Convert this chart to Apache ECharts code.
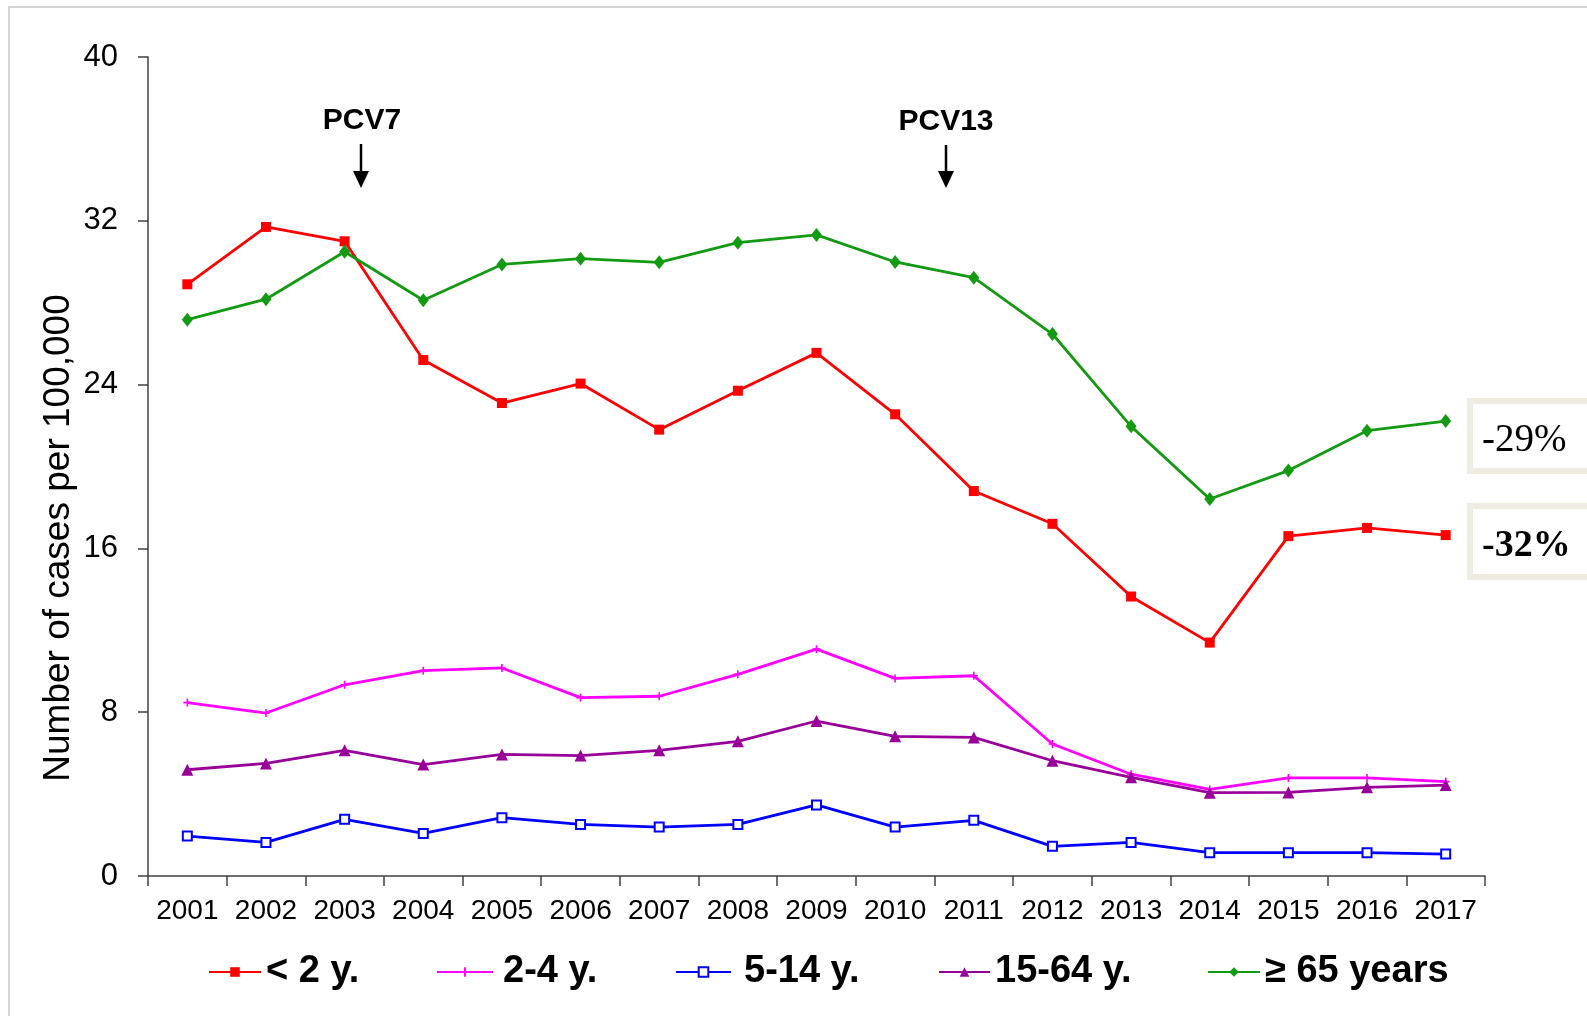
<!DOCTYPE html>
<html lang="en">
<head>
    <meta charset="UTF-8">
    <script src="https://cdn.jsdelivr.net/npm/echarts@6/dist/echarts.min.js"></script>
    <title>IPD incidence by age group</title>
    <style>
        html, body { margin: 0; padding: 0; background: #fff; }
    </style>
</head>
<body>
<div id="main" style="width: 1587px;height:1016px;"></div>
<script type="text/javascript">
    // data
    var years = ['2001', '2002', '2003', '2004', '2005', '2006', '2007', '2008', '2009',
                 '2010', '2011', '2012', '2013', '2014', '2015', '2016', '2017'];
    var under2 = [28.9, 31.7, 31.0, 25.2, 23.1, 24.05, 21.8, 23.7, 25.55, 22.55, 18.8, 17.2, 13.65, 11.4, 16.6, 17.0, 16.65];
    var age2to4 = [8.47, 7.96, 9.34, 10.03, 10.16, 8.71, 8.78, 9.85, 11.08, 9.65, 9.78, 6.45, 4.97, 4.23, 4.79, 4.79, 4.61];
    var age5to14 = [1.95, 1.64, 2.77, 2.08, 2.85, 2.52, 2.39, 2.52, 3.47, 2.39, 2.72, 1.45, 1.64, 1.14, 1.14, 1.14, 1.07];
    var age15to64 = [5.19, 5.5, 6.14, 5.44, 5.94, 5.88, 6.14, 6.58, 7.57, 6.82, 6.77, 5.63, 4.82, 4.07, 4.08, 4.33, 4.44];
    var over65 = [27.17, 28.17, 30.49, 28.12, 29.87, 30.15, 29.97, 30.93, 31.31, 29.99, 29.22, 26.47, 21.96, 18.41, 19.8, 21.75, 22.22];
    var yTicks = [0, 8, 16, 24, 32, 40];
    var groups = ['< 2 y.', '2-4 y.', '5-14 y.', '15-64 y.', '≥ 65 years'];

    var FONT = 'Liberation Sans, Arial, sans-serif';
    var myChart = echarts.init(document.getElementById('main'));

    function series(name, data, color, symbol, size, extra) {
        var s = {
            name: name,
            type: 'line',
            data: data,
            symbol: symbol,
            symbolSize: size,
            showAllSymbol: true,
            lineStyle: { color: color, width: 2.8 },
            itemStyle: { color: color },
            emphasis: { disabled: true },
            z: 3
        };
        for (var k in extra) s[k] = extra[k];
        return s;
    }

    // one legend per item so the spacing can follow the original
    var legendLeft = [203, 431, 670, 933, 1202];
    var legendIconW = [52, 56, 55, 51, 52];
    var legendTextPad = [0, 5, 8, 0, 0];
    var legends = groups.map(function (g, i) {
        return {
            left: legendLeft[i],
            top: 948,
            itemWidth: legendIconW[i],
            itemHeight: 12,
            selectedMode: false,
            textStyle: { fontSize: 38, fontWeight: 'bold', color: '#000', fontFamily: FONT, padding: [0, 0, 0, legendTextPad[i]] },
            data: [g]
        };
    });

    var plusPath = 'path://M4,0h2v4h4v2h-4v4h-2v-4h-4v-2h4z';

    var option = {
        animation: false,
        backgroundColor: '#fff',
        textStyle: { fontFamily: FONT },
        grid: { left: 148, right: 102, top: 57, bottom: 140, containLabel: false },
        legend: legends,
        xAxis: {
            type: 'category',
            data: years,
            boundaryGap: true,
            axisLine: { lineStyle: { color: '#404040', width: 1.5 } },
            axisTick: { show: true, length: 10, lineStyle: { color: '#404040', width: 1.5 } },
            axisLabel: { fontSize: 28, color: '#000', margin: 21, fontFamily: FONT, interval: 0 }
        },
        yAxis: {
            type: 'value',
            min: yTicks[0],
            max: yTicks[yTicks.length - 1],
            interval: yTicks[1] - yTicks[0],
            splitLine: { show: false },
            axisLine: { show: true, lineStyle: { color: '#404040', width: 1.5 } },
            axisTick: { show: true, length: 10, lineStyle: { color: '#404040', width: 1.5 } },
            axisLabel: { fontSize: 31, color: '#000', margin: 30, fontFamily: FONT }
        },
        series: [
            series(groups[0], under2, '#ff0000', 'rect', 10),
            series(groups[1], age2to4, '#ff00ff', plusPath, 8),
            series(groups[2], age5to14, '#0000ff', 'emptyRect', 9, {
                itemStyle: { color: '#0000ff', borderWidth: 2 }
            }),
            series(groups[3], age15to64, '#990099', 'triangle', 12),
            series(groups[4], over65, '#139a13', 'diamond', [11, 14])
        ],
        graphic: [
            // outer frame
            { type: 'rect', shape: { x: 9, y: 7, width: 1620, height: 1040 }, style: { fill: 'none', stroke: '#c8c8c8', lineWidth: 1.5 }, z: 0 },
            // y axis name
            {
                type: 'text', x: 59, y: 538, rotation: Math.PI / 2,
                style: { text: 'Number of cases per 100,000', font: '37px ' + FONT, fill: '#000', align: 'center', verticalAlign: 'middle' }
            },
            // vaccine introductions
            { type: 'text', x: 362, y: 121, style: { text: 'PCV7', font: 'bold 30px ' + FONT, fill: '#000', align: 'center', verticalAlign: 'middle' } },
            { type: 'line', shape: { x1: 361, y1: 144, x2: 361, y2: 176 }, style: { stroke: '#000', lineWidth: 2.5 } },
            { type: 'polygon', shape: { points: [[353, 171], [369, 171], [361, 188]] }, style: { fill: '#000' } },
            { type: 'text', x: 946, y: 122, style: { text: 'PCV13', font: 'bold 30px ' + FONT, fill: '#000', align: 'center', verticalAlign: 'middle' } },
            { type: 'line', shape: { x1: 946, y1: 145, x2: 946, y2: 176 }, style: { stroke: '#000', lineWidth: 2.5 } },
            { type: 'polygon', shape: { points: [[938, 171], [954, 171], [946, 188]] }, style: { fill: '#000' } },
            // change boxes
            { type: 'rect', shape: { x: 1470, y: 401, width: 140, height: 70 }, style: { fill: '#fff', stroke: '#eeece1', lineWidth: 6 }, z: 5 },
            { type: 'text', x: 1482, y: 441, z: 6, style: { text: '-29%', font: '39px Liberation Serif, Times New Roman, serif', fill: '#000', align: 'left', verticalAlign: 'middle' } },
            { type: 'rect', shape: { x: 1470, y: 506, width: 140, height: 71 }, style: { fill: '#fff', stroke: '#eeece1', lineWidth: 6 }, z: 5 },
            { type: 'text', x: 1482, y: 546, z: 6, style: { text: '-32%', font: 'bold 38px Liberation Serif, Times New Roman, serif', fill: '#000', align: 'left', verticalAlign: 'middle' } }
        ]
    };

    myChart.setOption(option);
</script>
</body>
</html>
